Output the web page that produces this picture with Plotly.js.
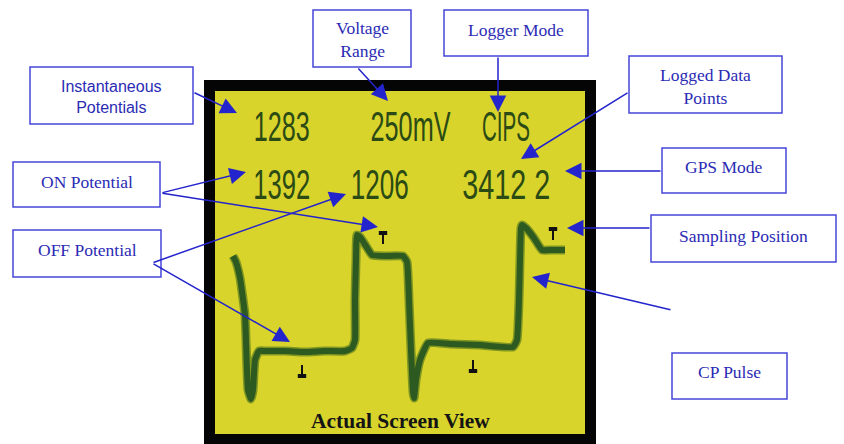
<!DOCTYPE html>
<html><head><meta charset="utf-8">
<script src="https://cdn.plot.ly/plotly-3.0.1.min.js"></script>
<style>html,body{margin:0;padding:0;background:#fff}#chart{width:844px;height:444px}</style>
</head><body><div id="chart"></div>
<script>
// ---- data (screen trace in screen units) ----
const traceTime  = [233,236,240,245,248,251,253,255,259,265,285,305,325,345,352,355,355,356,357,360,366,372,385,403,407,409,411,413,414,416,420,428,450,480,513,517,519,520,521,522,526,534,542,552,565];
const traceLevel = [256,262,278,315,390,399,390,360,351,351,351,352,351,351,348,340,300,260,235,237,246,255,256,256,262,300,350,392,398,380,360,343,344,345,347,340,300,260,228,225,228,238,250,250,250];
const onSampleTime  = [383, 553];
const onSampleLevel = [233, 229];
const offSampleTime  = [302, 473];
const offSampleLevel = [376, 371];
const screenTexts = ['1283', '250mV', 'CIPS', '1392', '1206', '3412 2'];
const calloutTexts = ['Instantaneous<br>Potentials', 'Voltage<br>Range', 'Logger Mode', 'Logged Data<br>Points', 'GPS Mode', 'ON Potential', 'OFF Potential', 'Sampling Position', 'CP Pulse'];
const captionText = 'Actual Screen View';

// ---- layout geometry (pixels) ----
const screenTextPos = [[281,126],[410,126],[506,126],[281,184],[379,184],[506,184]];
const screenTextWidth = [56, 80, 48, 57, 58, 88];
const serif = 'Liberation Serif, Times New Roman, serif';
const boxGeom = [
  {x0:30,x1:193,y0:67,y1:124,ty:97,font:'Liberation Sans, Arial, sans-serif',size:16},
  {x0:313,x1:411,y0:10,y1:67,ty:39,font:serif,size:17.5},
  {x0:444,x1:588,y0:10,y1:56,ty:30,font:serif,size:17.5},
  {x0:629,x1:782,y0:56,y1:113,ty:86,font:serif,size:17.5},
  {x0:662,x1:786,y0:148,y1:193,ty:167,font:serif,size:17.5},
  {x0:13,x1:160,y0:162,y1:207,ty:182,font:serif,size:17.5},
  {x0:13,x1:161,y0:230,y1:277,ty:250,font:serif,size:17.5},
  {x0:651,x1:836,y0:215,y1:262,ty:236,font:serif,size:17.5},
  {x0:672,x1:787,y0:353,y1:399,ty:372,font:serif,size:17.5}
];
const arrows = [
  [193,92,237,113],[357,67,388,101],[498,56,498,112],[629,92,521,159],[662,171,565,171],
  [161,193,246,172],[161,193,378,227],[152,263,346,194],[152,263,290,342],[651,228,567,228],[672,310,532,277]
];

const lcdGreen = '#2b4a14';
const blue = '#2b2bb4';
const arrowBlue = '#2424cc';

const traces = [
  {x:traceTime,y:traceLevel,mode:'lines',line:{color:'rgba(25,75,20,0.45)',width:9,shape:'spline',smoothing:0.4},hoverinfo:'skip'},
  {x:traceTime,y:traceLevel,mode:'lines',line:{color:'#2c5a20',width:6,shape:'spline',smoothing:0.4},hoverinfo:'skip'},
  {x:onSampleTime,y:onSampleLevel,mode:'markers',marker:{symbol:'line-ew',size:6,line:{width:4,color:'#111'}},hoverinfo:'skip'},
  {x:onSampleTime,y:onSampleLevel.map(v=>v+6),mode:'markers',marker:{symbol:'line-ns',size:7,line:{width:2,color:'#111'}},hoverinfo:'skip'},
  {x:offSampleTime,y:offSampleLevel,mode:'markers',marker:{symbol:'line-ew',size:6,line:{width:4,color:'#111'}},hoverinfo:'skip'},
  {x:offSampleTime,y:offSampleLevel.map(v=>v-6),mode:'markers',marker:{symbol:'line-ns',size:7,line:{width:2,color:'#111'}},hoverinfo:'skip'}
];

const shapes = [
  {type:'rect',xref:'x',yref:'y',x0:204,x1:596,y0:80,y1:450,fillcolor:'#050505',line:{width:0},layer:'below'},
  {type:'rect',xref:'x',yref:'y',x0:215,x1:585,y0:91,y1:434,fillcolor:'#d8d42c',line:{width:0},layer:'below'}
];
boxGeom.forEach(b=>shapes.push({type:'rect',xref:'x',yref:'y',x0:b.x0,x1:b.x1,y0:b.y0,y1:b.y1,fillcolor:'#ffffff',line:{color:'#4646d8',width:1.5},layer:'above'}));

const annotations = [];
screenTexts.forEach((t,i)=>annotations.push({x:screenTextPos[i][0],y:screenTextPos[i][1],xref:'x',yref:'y',text:t,showarrow:false,
  font:{family:'Liberation Sans, Arial, sans-serif',size:42,color:lcdGreen}}));
calloutTexts.forEach((t,i)=>{const b=boxGeom[i];annotations.push({x:(b.x0+b.x1)/2,y:b.ty,xref:'x',yref:'y',text:t,showarrow:false,
  font:{family:b.font,size:b.size,color:blue}});});
annotations.push({x:400,y:421,xref:'x',yref:'y',text:'<b>'+captionText+'</b>',showarrow:false,
  font:{family:serif,size:21.5,color:'#141414'}});
arrows.forEach(a=>annotations.push({x:a[2],y:a[3],ax:a[0],ay:a[1],xref:'x',yref:'y',axref:'x',ayref:'y',text:'',showarrow:true,
  arrowhead:2,arrowsize:2.2,arrowwidth:1.5,arrowcolor:arrowBlue,standoff:0}));

const layout = {
  width:844,height:444,margin:{l:0,r:0,t:0,b:0},showlegend:false,
  paper_bgcolor:'#ffffff',plot_bgcolor:'#ffffff',
  xaxis:{range:[0,844],visible:false,fixedrange:true},
  yaxis:{range:[444,0],visible:false,fixedrange:true},
  shapes:shapes,annotations:annotations
};
Plotly.newPlot('chart',traces,layout,{staticPlot:true,displayModeBar:false}).then(gd=>{
  // condense the LCD-style screen digits horizontally (narrow display font)
  const groups = gd.querySelectorAll('g.annotation');
  groups.forEach(g=>{
    const idx = +g.getAttribute('data-index');
    if (idx < screenTexts.length) {
      const txt = g.querySelector('text.annotation-text');
      if (!txt) return;
      const bb = txt.getBBox();
      const cx = bb.x + bb.width/2;
      const s = screenTextWidth[idx] / bb.width;
      txt.setAttribute('transform', 'translate('+cx+',0) scale('+s+',1) translate('+(-cx)+',0)');
    }
  });
});
</script></body></html>
